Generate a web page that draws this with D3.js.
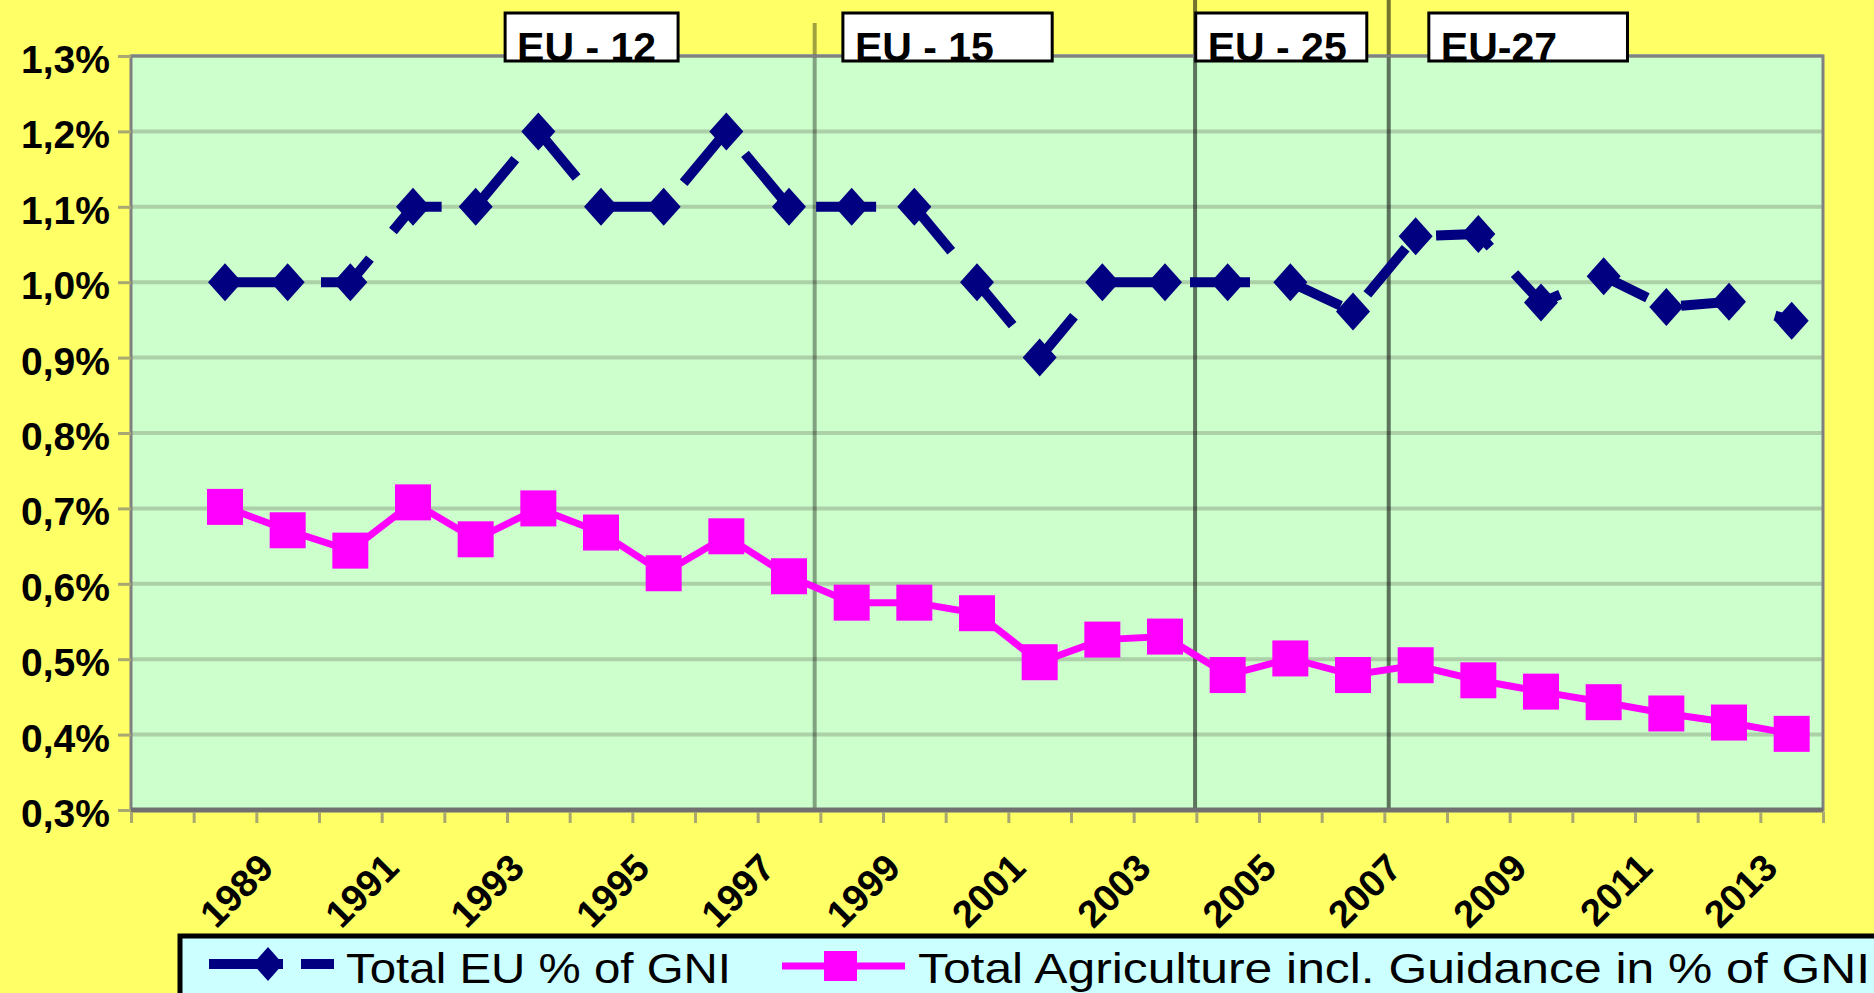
<!DOCTYPE html>
<html>
<head>
<meta charset="utf-8">
<script src="https://cdn.jsdelivr.net/npm/d3@7/dist/d3.min.js"></script>
<style>
	html, body { margin: 0; padding: 0; background: #ffff66; overflow: hidden; }
	svg { display: block; font-family: Arial, "Liberation Sans", sans-serif; }
</style>
</head>
<body>
<div id="chart"></div>
<script>

// values (% of GNI)
var years = [1988, 1989, 1990, 1991, 1992, 1993, 1994, 1995, 1996, 1997, 1998, 1999, 2000,
	2001, 2002, 2003, 2004, 2005, 2006, 2007, 2008, 2009, 2010, 2011, 2012, 2013];
var totalEU = [1.0, 1.0, 1.0, 1.1, 1.1, 1.2, 1.1, 1.1, 1.2, 1.1, 1.1, 1.1, 1.0,
	0.9, 1.0, 1.0, 1.0, 1.0, 0.961, 1.061, 1.064, 0.973, 1.008, 0.967, 0.974, 0.949];
var agriculture = [0.702, 0.671, 0.644, 0.708, 0.659, 0.700, 0.668, 0.614, 0.663, 0.610, 0.575, 0.575, 0.561,
	0.496, 0.526, 0.530, 0.479, 0.501, 0.479, 0.492, 0.472, 0.457, 0.443, 0.428, 0.416, 0.401];

var yTicks = [0.3, 0.4, 0.5, 0.6, 0.7, 0.8, 0.9, 1.0, 1.1, 1.2, 1.3];
var labelYears = [1989, 1991, 1993, 1995, 1997, 1999, 2001, 2003, 2005, 2007, 2009, 2011, 2013];
var seriesNames = ["Total EU % of GNI", "Total Agriculture incl. Guidance in % of GNI"];

// enlargement boxes and dividers, in year units
var stageNames = ["EU - 12", "EU - 15", "EU - 25", "EU-27"];
var stageFrom = [1992.47, 1997.86, 2003.49, 2007.21];
var stageTo = [1995.23, 2001.2, 2006.22, 2010.38];
var dividerYears = [1997.41, 2003.48, 2006.57];


var width = 1874, height = 993,
	plot = {left: 131, right: 1823, top: 56, bottom: 810};

var x = d3.scaleLinear().domain([1986.5, 2013.5]).range([plot.left, plot.right]);
var y = d3.scaleLinear().domain([0.3, 1.3]).range([plot.bottom, plot.top]);

var svg = d3.select("#chart")
	.append("svg")
		.attr("width", width)
		.attr("height", height);

svg.append("rect")
	.attr("width", width).attr("height", height)
	.attr("fill", "#ffff66");

svg.append("rect")
	.attr("x", plot.left).attr("y", plot.top)
	.attr("width", plot.right - plot.left).attr("height", plot.bottom - plot.top)
	.attr("fill", "#ccffcc");

// horizontal grid
svg.append("g")
	.selectAll("line")
	.data(yTicks)
	.enter().append("line")
		.attr("x1", plot.left).attr("x2", plot.right)
		.attr("y1", function(d) { return y(d); })
		.attr("y2", function(d) { return y(d); })
		.attr("stroke", "#acd0a8")
		.attr("stroke-width", 4);

// enlargement dividers
svg.append("g")
	.selectAll("line")
	.data(dividerYears)
	.enter().append("line")
		.attr("x1", function(d) { return x(d); })
		.attr("x2", function(d) { return x(d); })
		.attr("y1", function(d, i) { return i === 0 ? plot.top - 33 : 0; })
		.attr("y2", plot.bottom)
		.attr("stroke", "#000")
		.attr("stroke-opacity", function(d, i) { return i === 0 ? 0.37 : 0.55; })
		.attr("stroke-width", 4);

// frame
svg.append("rect")
	.attr("x", plot.left).attr("y", plot.top)
	.attr("width", plot.right - plot.left).attr("height", plot.bottom - plot.top)
	.attr("fill", "none")
	.attr("stroke", "#808080")
	.attr("stroke-width", 3);

svg.append("line")
	.attr("x1", plot.left).attr("x2", plot.right)
	.attr("y1", plot.bottom).attr("y2", plot.bottom)
	.attr("stroke", "#707070")
	.attr("stroke-width", 5);

// axes
var tickColor = "#a8a870";

var xTickAxis = svg.append("g")
	.attr("transform", "translate(0," + (plot.bottom + 2) + ")")
	.call(d3.axisBottom(x).tickValues(d3.range(1986.5, 2014, 1)).tickSize(11).tickFormat(""));
xTickAxis.select(".domain").remove();
xTickAxis.selectAll("line").attr("stroke", tickColor).attr("stroke-width", 3);

var yAxis = svg.append("g")
	.attr("transform", "translate(" + plot.left + ",0)")
	.call(d3.axisLeft(y).tickValues(yTicks).tickSize(13).tickPadding(8)
		.tickFormat(function(d) { return d.toFixed(1).replace(".", ",") + "%"; }));
yAxis.select(".domain").remove();
yAxis.selectAll("line").attr("stroke", tickColor).attr("stroke-width", 3);
yAxis.selectAll("text")
	.attr("x", -21)
	.attr("dy", "16.5px")
	.attr("fill", "#000")
	.style("font-size", "39px")
	.style("font-weight", "bold")
	.style("font-family", "Arial, 'Liberation Sans', sans-serif");

svg.append("g")
	.selectAll("text")
	.data(labelYears)
	.enter().append("text")
		.attr("transform", function(d) { return "translate(" + (x(d) - 12) + "," + 870 + ") rotate(-45)"; })
		.attr("text-anchor", "end")
		.style("font-size", "38px")
		.style("font-weight", "bold")
		.text(function(d) { return d; });

// series
var agriData = years.map(function(d, i) { return {year: d, value: agriculture[i]}; });
var euData = years.map(function(d, i) { return {year: d, value: totalEU[i]}; });

var line = d3.line()
	.x(function(d) { return x(d.year); })
	.y(function(d) { return y(d.value); });

var diamond = "M0,-19L17,0L0,19L-17,0Z";

svg.append("path")
	.datum(agriData)
	.attr("d", line)
	.attr("fill", "none")
	.attr("stroke", "#ff00ff")
	.attr("stroke-width", 7);

svg.append("g")
	.selectAll("rect")
	.data(agriData)
	.enter().append("rect")
		.attr("x", function(d) { return x(d.year) - 18; })
		.attr("y", function(d) { return y(d.value) - 18; })
		.attr("width", 36).attr("height", 36)
		.attr("fill", "#ff00ff");

svg.append("path")
	.datum(euData)
	.attr("d", line)
	.attr("fill", "none")
	.attr("stroke", "#000080")
	.attr("stroke-width", 10)
	.attr("stroke-dasharray", "60,36");

svg.append("g")
	.selectAll("path")
	.data(euData)
	.enter().append("path")
		.attr("transform", function(d) { return "translate(" + x(d.year) + "," + y(d.value) + ")"; })
		.attr("d", diamond)
		.attr("fill", "#000080");

// enlargement labels
var defs = svg.append("defs");
var stage = svg.append("g")
	.selectAll("g")
	.data(stageNames)
	.enter().append("g");

stage.each(function(d, i) {
	defs.append("clipPath")
		.attr("id", "stage-clip-" + i)
		.append("rect")
			.attr("x", x(stageFrom[i])).attr("y", 13)
			.attr("width", x(stageTo[i]) - x(stageFrom[i])).attr("height", 47);
});

stage.append("rect")
	.attr("x", function(d, i) { return x(stageFrom[i]); })
	.attr("y", 13)
	.attr("width", function(d, i) { return x(stageTo[i]) - x(stageFrom[i]); })
	.attr("height", 48)
	.attr("fill", "#fff")
	.attr("stroke", "#000")
	.attr("stroke-width", 3);

stage.append("text")
	.attr("clip-path", function(d, i) { return "url(#stage-clip-" + i + ")"; })
	.attr("x", function(d, i) { return x(stageFrom[i]) + 12; })
	.attr("y", 61)
	.style("font-size", "41px")
	.style("font-weight", "bold")
	.text(function(d) { return d; });

// legend
var legend = svg.append("g");

legend.append("rect")
	.attr("x", 180).attr("y", 936)
	.attr("width", 1760).attr("height", 100)
	.attr("fill", "#ccffff")
	.attr("stroke", "#000")
	.attr("stroke-width", 5);

legend.append("line")
	.attr("x1", 209).attr("x2", 334)
	.attr("y1", 964).attr("y2", 964)
	.attr("stroke", "#000080")
	.attr("stroke-width", 10)
	.attr("stroke-dasharray", "74,18");

legend.append("path")
	.attr("transform", "translate(268,964)")
	.attr("d", "M0,-17L15,0L0,17L-15,0Z")
	.attr("fill", "#000080");

legend.append("line")
	.attr("x1", 782).attr("x2", 905)
	.attr("y1", 966).attr("y2", 966)
	.attr("stroke", "#ff00ff")
	.attr("stroke-width", 7);

legend.append("rect")
	.attr("x", 824).attr("y", 951)
	.attr("width", 33).attr("height", 30)
	.attr("fill", "#ff00ff");

legend.selectAll("text")
	.data(seriesNames)
	.enter().append("text")
		.attr("x", function(d, i) { return i === 0 ? 346 : 918; })
		.attr("y", 983)
		.attr("textLength", function(d, i) { return i === 0 ? 385 : 952; })
		.attr("lengthAdjust", "spacingAndGlyphs")
		.style("font-size", "43px")
		.text(function(d) { return d; });

</script>
</body>
</html>
